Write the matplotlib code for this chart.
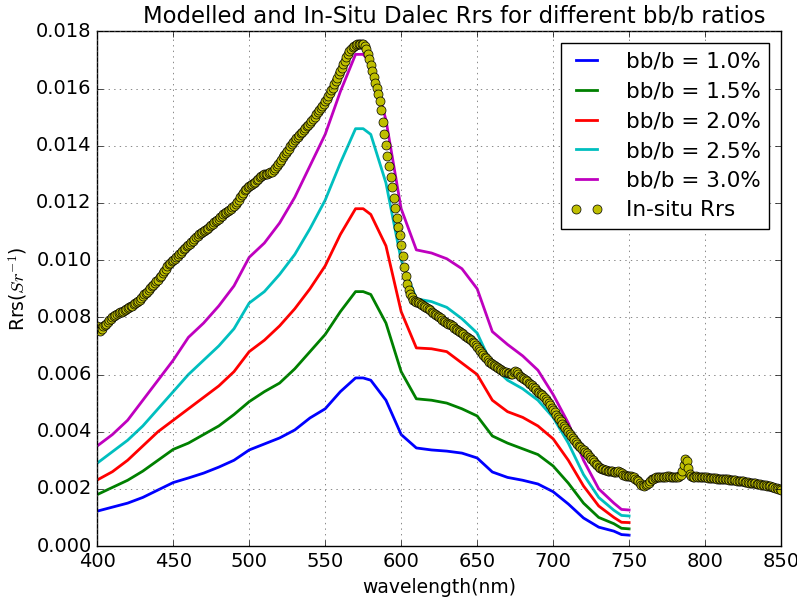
import numpy as np
import matplotlib
matplotlib.use("Agg")
import matplotlib.pyplot as plt

# modelled Rrs, bb/b ratios
model_wl = [400, 410, 420, 430, 440, 450, 460, 470, 480, 490, 500, 510, 520, 530,
            540, 550, 560, 570, 575, 580, 590, 600, 610, 620, 630, 640, 650, 660,
            670, 680, 690, 700, 710, 720, 730, 740, 745, 750]

rrs_10 = [0.00122, 0.00136, 0.00150, 0.00170, 0.00196, 0.00222, 0.00238, 0.00255,
          0.00276, 0.00300, 0.00336, 0.00357, 0.00378, 0.00406, 0.00448, 0.00480,
          0.00540, 0.00588, 0.00588, 0.00580, 0.00510, 0.00390, 0.00343, 0.00336,
          0.00332, 0.00325, 0.00308, 0.00259, 0.00240, 0.00230, 0.00217, 0.00190,
          0.00147, 0.00098, 0.00066, 0.00052, 0.00040, 0.00038]
rrs_15 = [0.00180, 0.00205, 0.00230, 0.00262, 0.00300, 0.00338, 0.00360, 0.00390,
          0.00420, 0.00460, 0.00505, 0.00540, 0.00570, 0.00620, 0.00680, 0.00740,
          0.00820, 0.00890, 0.00890, 0.00880, 0.00780, 0.00610, 0.00515, 0.00510,
          0.00500, 0.00480, 0.00455, 0.00385, 0.00360, 0.00340, 0.00320, 0.00280,
          0.00220, 0.00150, 0.00100, 0.00078, 0.00062, 0.00060]
rrs_20 = [0.00231, 0.00260, 0.00300, 0.00350, 0.00400, 0.00440, 0.00480, 0.00520,
          0.00560, 0.00610, 0.00680, 0.00720, 0.00770, 0.00830, 0.00900, 0.00980,
          0.01090, 0.01180, 0.01180, 0.01160, 0.01050, 0.00820, 0.00693, 0.00690,
          0.00680, 0.00640, 0.00600, 0.00510, 0.00470, 0.00450, 0.00420, 0.00375,
          0.00300, 0.00210, 0.00140, 0.00100, 0.00083, 0.00082]
rrs_25 = [0.00290, 0.00330, 0.00370, 0.00420, 0.00480, 0.00540, 0.00600, 0.00650,
          0.00700, 0.00760, 0.00850, 0.00890, 0.00950, 0.01020, 0.01110, 0.01210,
          0.01340, 0.01460, 0.01460, 0.01440, 0.01270, 0.01000, 0.00865, 0.00855,
          0.00835, 0.00795, 0.00745, 0.00630, 0.00580, 0.00550, 0.00510, 0.00450,
          0.00360, 0.00250, 0.00170, 0.00125, 0.00107, 0.00105]
rrs_30 = [0.00350, 0.00390, 0.00440, 0.00510, 0.00580, 0.00650, 0.00730, 0.00780,
          0.00840, 0.00910, 0.01010, 0.01060, 0.01130, 0.01220, 0.01330, 0.01440,
          0.01590, 0.01720, 0.01720, 0.01690, 0.01490, 0.01180, 0.01036, 0.01025,
          0.01005, 0.00970, 0.00900, 0.00750, 0.00705, 0.00665, 0.00615, 0.00530,
          0.00430, 0.00300, 0.00200, 0.00150, 0.00128, 0.00126]

labels = ["bb/b = 1.0%", "bb/b = 1.5%", "bb/b = 2.0%", "bb/b = 2.5%", "bb/b = 3.0%"]
colors = ["b", "g", "r", "c", "m"]

# in-situ Dalec Rrs, 1 nm steps 400..850
insitu_wl = np.arange(400, 851)
insitu_rrs = [
    0.00770, 0.00760, 0.00752, 0.00758, 0.00768, 0.00772, 0.00778, 0.00785, 0.00790, 0.00795,
    0.00800, 0.00803, 0.00808, 0.00812, 0.00815, 0.00818, 0.00820, 0.00822, 0.00826, 0.00830,
    0.00832, 0.00835, 0.00838, 0.00840, 0.00845, 0.00850, 0.00852, 0.00858, 0.00862, 0.00868,
    0.00873, 0.00880, 0.00886, 0.00890, 0.00896, 0.00902, 0.00908, 0.00914, 0.00920, 0.00926,
    0.00932, 0.00940, 0.00946, 0.00955, 0.00962, 0.00970, 0.00978, 0.00985, 0.00990, 0.00996,
    0.01000, 0.01005, 0.01010, 0.01015, 0.01020, 0.01026, 0.01032, 0.01038, 0.01043, 0.01048,
    0.01054, 0.01058, 0.01063, 0.01068, 0.01074, 0.01080, 0.01085, 0.01090, 0.01094, 0.01098,
    0.01102, 0.01106, 0.01110, 0.01114, 0.01118, 0.01122, 0.01127, 0.01132, 0.01136, 0.01140,
    0.01145, 0.01150, 0.01155, 0.01160, 0.01164, 0.01168, 0.01172, 0.01176, 0.01180, 0.01185,
    0.01190, 0.01196, 0.01204, 0.01212, 0.01220, 0.01228, 0.01236, 0.01244, 0.01250, 0.01255,
    0.01258, 0.01262, 0.01266, 0.01270, 0.01275, 0.01280, 0.01285, 0.01290, 0.01294, 0.01297,
    0.01300, 0.01301, 0.01302, 0.01304, 0.01307, 0.01310, 0.01315, 0.01322, 0.01330, 0.01338,
    0.01345, 0.01352, 0.01360, 0.01368, 0.01376, 0.01383, 0.01390, 0.01398, 0.01405, 0.01412,
    0.01420, 0.01426, 0.01432, 0.01438, 0.01444, 0.01450, 0.01456, 0.01462, 0.01468, 0.01474,
    0.01480, 0.01487, 0.01494, 0.01502, 0.01510, 0.01518, 0.01525, 0.01532, 0.01540, 0.01548,
    0.01556, 0.01565, 0.01574, 0.01584, 0.01594, 0.01604, 0.01615, 0.01626, 0.01638, 0.01650,
    0.01662, 0.01674, 0.01686, 0.01698, 0.01710, 0.01722, 0.01732, 0.01740, 0.01746, 0.01750,
    0.01753, 0.01756, 0.01757, 0.01757, 0.01756, 0.01755, 0.01750, 0.01738, 0.01722, 0.01703,
    0.01683, 0.01662, 0.01642, 0.01621, 0.01601, 0.01582, 0.01558, 0.01526, 0.01485, 0.01442,
    0.01403, 0.01364, 0.01330, 0.01292, 0.01257, 0.01216, 0.01182, 0.01147, 0.01117, 0.01088,
    0.01053, 0.01015, 0.00977, 0.00945, 0.00915, 0.00895, 0.00880, 0.00870, 0.00862, 0.00858,
    0.00855, 0.00852, 0.00849, 0.00846, 0.00843, 0.00840, 0.00836, 0.00832, 0.00828, 0.00824,
    0.00820, 0.00816, 0.00812, 0.00808, 0.00804, 0.00800, 0.00796, 0.00792, 0.00788, 0.00784,
    0.00781, 0.00778, 0.00775, 0.00772, 0.00768, 0.00764, 0.00760, 0.00756, 0.00752, 0.00748,
    0.00744, 0.00740, 0.00736, 0.00732, 0.00728, 0.00724, 0.00720, 0.00715, 0.00710, 0.00704,
    0.00697, 0.00690, 0.00683, 0.00676, 0.00669, 0.00662, 0.00656, 0.00650, 0.00645, 0.00640,
    0.00636, 0.00632, 0.00628, 0.00625, 0.00622, 0.00619, 0.00616, 0.00613, 0.00610, 0.00608,
    0.00606, 0.00604, 0.00602, 0.00601, 0.00608, 0.00614, 0.00610, 0.00602, 0.00596, 0.00592,
    0.00588, 0.00584, 0.00580, 0.00576, 0.00572, 0.00568, 0.00564, 0.00558, 0.00552, 0.00546,
    0.00540, 0.00536, 0.00532, 0.00528, 0.00522, 0.00516, 0.00508, 0.00500, 0.00492, 0.00484,
    0.00476, 0.00468, 0.00460, 0.00452, 0.00444, 0.00436, 0.00428, 0.00420, 0.00412, 0.00405,
    0.00398, 0.00391, 0.00384, 0.00377, 0.00370, 0.00363, 0.00357, 0.00351, 0.00346, 0.00341,
    0.00336, 0.00330, 0.00324, 0.00318, 0.00312, 0.00306, 0.00300, 0.00294, 0.00288, 0.00282,
    0.00277, 0.00273, 0.00270, 0.00268, 0.00266, 0.00265, 0.00264, 0.00263, 0.00262, 0.00261,
    0.00260, 0.00259, 0.00258, 0.00262, 0.00260, 0.00255, 0.00250, 0.00248, 0.00246, 0.00245,
    0.00244, 0.00245, 0.00243, 0.00240, 0.00236, 0.00231, 0.00226, 0.00220, 0.00215, 0.00212,
    0.00210, 0.00212, 0.00216, 0.00222, 0.00228, 0.00233, 0.00236, 0.00238, 0.00240, 0.00241,
    0.00242, 0.00243, 0.00242, 0.00241, 0.00242, 0.00244, 0.00245, 0.00243, 0.00242, 0.00241,
    0.00240, 0.00241, 0.00242, 0.00244, 0.00250, 0.00262, 0.00285, 0.00305, 0.00298, 0.00272,
    0.00252, 0.00244, 0.00242, 0.00243, 0.00244, 0.00243, 0.00242, 0.00242, 0.00241, 0.00241,
    0.00240, 0.00240, 0.00239, 0.00239, 0.00238, 0.00238, 0.00237, 0.00237, 0.00236, 0.00236,
    0.00235, 0.00235, 0.00234, 0.00234, 0.00233, 0.00233, 0.00232, 0.00232, 0.00231, 0.00231,
    0.00230, 0.00229, 0.00228, 0.00228, 0.00227, 0.00226, 0.00225, 0.00224, 0.00223, 0.00222,
    0.00222, 0.00221, 0.00220, 0.00219, 0.00218, 0.00217, 0.00216, 0.00215, 0.00214, 0.00213,
    0.00212, 0.00211, 0.00210, 0.00209, 0.00208, 0.00206, 0.00204, 0.00202, 0.00200, 0.00198,
    0.00196,
]

plt.style.use("classic")
plt.rcParams["font.family"] = ["DejaVu Sans"]

fig = plt.figure(figsize=(7.97, 6.01), dpi=100, facecolor="white")
ax = fig.add_subplot(111)
fig.subplots_adjust(left=0.122, right=0.98, bottom=0.0915, top=0.9476)

for vals, c, lab in zip([rrs_10, rrs_15, rrs_20, rrs_25, rrs_30], colors, labels):
    ax.plot(model_wl, vals, color=c, lw=2, label=lab)

ax.plot(insitu_wl, insitu_rrs, "o", color="y", mec="k", mew=0.5, ms=6.5,
        label="In-situ Rrs")

ax.set_xlim(400, 850)
ax.set_ylim(0, 0.018)
ax.grid(True, color="0.35")
ax.tick_params(labelsize=14)
ax.set_xlabel("wavelength(nm)", fontsize=13.5)
ax.set_ylabel("Rrs($Sr^{-1}$)", fontsize=13.5)
ax.set_title("Modelled and In-Situ Dalec Rrs for different bb/b ratios",
             fontsize=16.4, x=0.522, y=1.003)

ax.legend(loc="upper right", numpoints=2, fontsize=15.5, handlelength=1.55,
          handletextpad=1.05, labelspacing=0.45, borderpad=0.4,
          borderaxespad=0.55)

fig.savefig("out.png", dpi=100, facecolor="white")
